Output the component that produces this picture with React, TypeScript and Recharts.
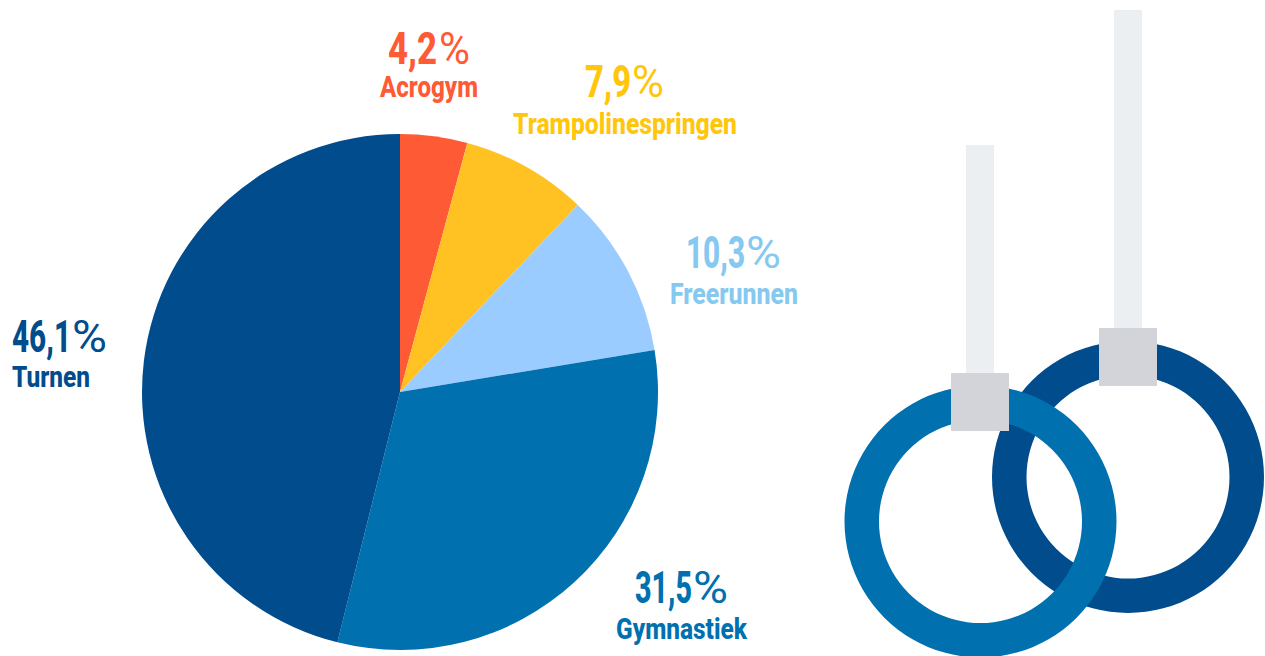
import React from 'react';
import { PieChart, Pie, Cell } from 'recharts';

const categories = ['Acrogym', 'Trampolinespringen', 'Freerunnen', 'Gymnastiek', 'Turnen'];
const shares = [4.2, 7.9, 10.3, 31.5, 46.1];
const shareLabels = ['4,2', '7,9', '10,3', '31,5', '46,1'];
const sliceColors = ['#FF5A36', '#FFC222', '#9BCCFF', '#0070AF', '#004C8C'];
const labelColors = ['#FF5A36', '#FFC60B', '#85C9F0', '#0070AF', '#004C8C'];

const data = categories.map((name, i) => ({ name, value: shares[i] }));
const ringData = [{ name: 'ring', value: 1 }];

// label boxes
const labelBoxes = [
  { numX: 388, numW: 49, pctX: 439, pctW: 31, numY: 64, nameX: 380, nameW: 98, nameY: 97 },
  { numX: 585, numW: 46, pctX: 632, pctW: 32, numY: 97, nameX: 513, nameW: 224, nameY: 134 },
  { numX: 686, numW: 59, pctX: 746, pctW: 35, numY: 268, nameX: 670, nameW: 128, nameY: 304 },
  { numX: 635, numW: 57, pctX: 693, pctW: 35, numY: 603, nameX: 616, nameW: 131, nameY: 639 },
  { numX: 12, numW: 59, pctX: 72, pctW: 35, numY: 352, nameX: 12, nameW: 78, nameY: 387 },
];

const FONT = 'Roboto, sans-serif';
const NUM_SIZE = 44;

// Roboto is wider than the picture's font, so squeeze each text to its box
function Squeezed({ x, y, width, natural, children, ...rest }: any) {
  const scale = width / natural;
  return (
    <text
      transform={`translate(${x} ${y}) scale(${scale} 1)`}
      textLength={natural}
      lengthAdjust="spacingAndGlyphs"
      {...rest}
    >
      {children}
    </text>
  );
}

function renderLabel(props: any) {
  const i = props.index;
  const box = labelBoxes[i];
  const digits = shareLabels[i].length - 1;
  return (
    <g key={i} fontFamily={FONT} fill={labelColors[i]}>
      <Squeezed
        x={box.numX}
        y={box.numY}
        width={box.numW}
        natural={(digits * 0.575 + 0.27) * NUM_SIZE}
        fontSize={NUM_SIZE}
        fontWeight={800}
      >
        {shareLabels[i]}
      </Squeezed>
      <Squeezed
        x={box.pctX}
        y={box.numY}
        width={box.pctW}
        natural={0.73 * NUM_SIZE}
        fontSize={NUM_SIZE}
        fontWeight={400}
      >
        %
      </Squeezed>
      <Squeezed
        x={box.nameX}
        y={box.nameY}
        width={box.nameW}
        natural={box.nameW * 1.25}
        fontSize={29}
        fontWeight={800}
      >
        {categories[i]}
      </Squeezed>
    </g>
  );
}

export default function App() {
  return (
    <div style={{ position: 'absolute', left: 0, top: 0, width: 1265, height: 656, overflow: 'hidden' }}>
      <PieChart width={1265} height={656} margin={{ top: 0, right: 0, bottom: 0, left: 0 }}>
        <Pie
          data={data}
          dataKey="value"
          cx={400}
          cy={392}
          outerRadius={258}
          startAngle={90}
          endAngle={-270}
          stroke="none"
          label={renderLabel}
          labelLine={false}
          isAnimationActive={false}
        >
          {data.map((d, i) => (
            <Cell key={d.name} fill={sliceColors[i]} />
          ))}
        </Pie>
        <Pie
          data={ringData}
          dataKey="value"
          cx={1128}
          cy={477}
          innerRadius={101.5}
          outerRadius={136}
          startAngle={90}
          endAngle={-270}
          fill="#004C8C"
          stroke="none"
          isAnimationActive={false}
        />
        <Pie
          data={ringData}
          dataKey="value"
          cx={980.5}
          cy={521.5}
          innerRadius={101.5}
          outerRadius={136}
          startAngle={90}
          endAngle={-270}
          fill="#0070AF"
          stroke="none"
          isAnimationActive={false}
        />
      </PieChart>
      {/* straps and clamps sit on top of the rings, Recharts paints plain children under the pies */}
      <svg width={1265} height={656} style={{ position: 'absolute', left: 0, top: 0 }}>
        <rect x={966} y={145} width={28} height={228} fill="#EBEFF2" />
        <rect x={1114} y={10} width={28} height={318} fill="#EBEFF2" />
        <rect x={951} y={373} width={58} height={58} fill="#D3D4D9" />
        <rect x={1099} y={328} width={58} height={58} fill="#D3D4D9" />
      </svg>
    </div>
  );
}
